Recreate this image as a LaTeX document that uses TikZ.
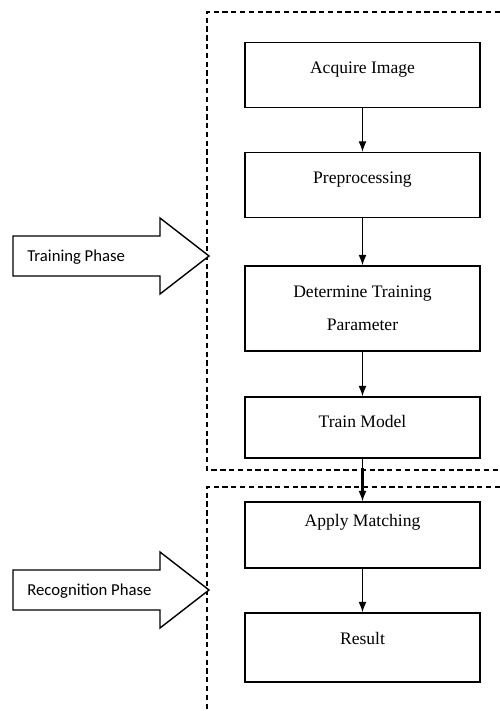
\documentclass[tikz,border=0pt]{standalone}
\usepackage{fontspec}
\setmainfont{Liberation Serif}
\newfontfamily\phasefont{Carlito}
\usetikzlibrary{arrows.meta}

\begin{document}
\begin{tikzpicture}[
  x=0.02cm, y=-0.02cm,
  stepbox/.style={draw=black, line width=0.8pt, inner sep=0pt, minimum width=4.7cm,
    minimum height=1.3cm, font=\fontsize{10}{12}\selectfont, text height=7pt, text depth=9pt},
  flow/.style={draw=black, line width=0.6pt, -{Latex[length=6pt, width=4.5pt]}},
  region/.style={draw=black, line width=0.7pt, dash pattern=on 3pt off 2pt},
  phase/.style={draw=black, line width=0.8pt, fill=white},
  phaselabel/.style={font=\phasefont\fontsize{9.5}{11}\selectfont, inner sep=0pt}
]
  \useasboundingbox (0,0) rectangle (500,711);

  % Fases
  \draw[region] (500,12) -- (207,12) -- (207,470) -- (500,470);
  \draw[region] (500,487) -- (207,487) -- (207,711);

  % Cajas
  \node[stepbox] (acquire) at (362.5,75) {Acquire Image};
  \node[stepbox] (prep) at (362.5,185) {Preprocessing};
  \node[stepbox, minimum height=1.7cm, text height=, text depth=, align=center]
    (param) at (362.5,308.5) {Determine Training\\[7pt]Parameter};
  \node[stepbox, minimum height=1.22cm, text depth=7pt] (train) at (362.5,427.5) {Train Model};
  \node[stepbox, minimum height=1.32cm, text depth=17pt] (apply) at (362.5,535) {Apply Matching};
  \node[stepbox, minimum height=1.38cm, text depth=10.5pt] (result) at (362.5,647.5) {Result};

  % Flechas
  \draw[flow] (acquire) -- (prep);
  \draw[flow] (prep) -- (param);
  \draw[flow] (param) -- (train);
  \draw[flow] (train) -- (apply);
  \draw[flow] (apply) -- (result);
  \coordinate (gaptop) at (362.5,468);
  \coordinate (gapbot) at (362.5,494);
  \draw[line width=2pt] (gaptop) -- (gapbot);

  % Etiquetas de fase
  \coordinate (traintip) at (209,256);
  \draw[phase] (traintip) -- ++(-49,-38) -- ++(0,18) -- ++(-147,0) -- ++(0,40)
    -- ++(147,0) -- ++(0,18) -- cycle;
  \node[phaselabel, anchor=west] (trainlabel) at (27,257) {Training Phase};

  \coordinate (recogtip) at (209,590);
  \draw[phase] (recogtip) -- ++(-49,-38) -- ++(0,18) -- ++(-147,0) -- ++(0,40)
    -- ++(147,0) -- ++(0,18) -- cycle;
  \node[phaselabel, anchor=west] (recoglabel) at (27,591) {Recognition Phase};
\end{tikzpicture}
\end{document}
